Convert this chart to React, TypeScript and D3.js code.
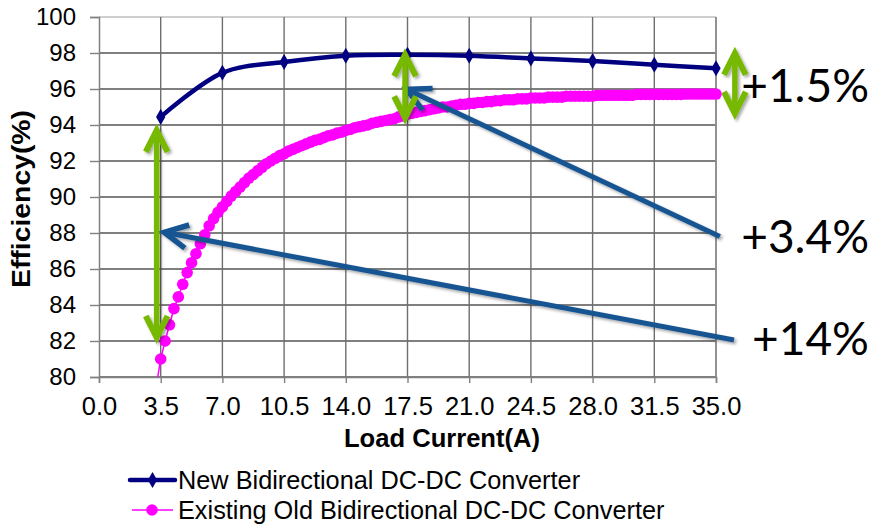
import * as d3 from "d3";
import { useRef, useEffect } from "react";

// new converter, measured points
const newCurrent = [3.5, 7, 10.5, 14, 17.5, 21, 24.5, 28, 31.5, 35];
const newEfficiency = [94.45, 96.9, 97.5, 97.85, 97.9, 97.85, 97.7, 97.55, 97.35, 97.15];

// old converter, dense sweep [current, efficiency]
const oldPoints: [number, number][] = [
  [3.25, 79.5], [3.5, 81.0], [3.75, 82.0], [4.0, 82.9], [4.25, 83.8], [4.5, 84.45],
  [4.75, 85.15], [5.0, 85.8], [5.25, 86.35], [5.5, 86.85], [5.75, 87.4], [6.0, 87.9],
  [6.25, 88.4], [6.5, 88.8], [6.75, 89.15], [7.0, 89.45], [7.25, 89.75], [7.5, 90.05],
  [7.75, 90.3], [8.0, 90.55], [8.25, 90.8], [8.5, 91.05], [8.75, 91.25], [9.0, 91.45],
  [9.25, 91.65], [9.5, 91.85], [9.75, 92.0], [10.0, 92.15], [10.25, 92.3], [10.5, 92.4],
  [10.75, 92.55], [11.0, 92.65], [11.25, 92.75], [11.5, 92.85], [11.75, 92.95], [12.0, 93.05],
  [12.25, 93.15], [12.5, 93.2], [12.75, 93.3], [13.0, 93.4], [13.25, 93.45], [13.5, 93.55],
  [13.75, 93.6], [14.0, 93.7], [14.25, 93.75], [14.5, 93.85], [14.75, 93.9], [15.0, 93.95],
  [15.25, 94.0], [15.5, 94.1], [15.75, 94.15], [16.0, 94.2], [16.25, 94.25], [16.5, 94.3],
  [16.75, 94.35], [17.0, 94.45], [17.25, 94.5], [17.5, 94.6], [17.75, 94.65], [18.0, 94.7],
  [18.25, 94.75], [18.5, 94.8], [18.75, 94.85], [19.0, 94.9], [19.25, 94.95], [19.5, 95.0],
  [19.75, 95.0], [20.0, 95.05], [20.25, 95.1], [20.5, 95.15], [20.75, 95.15], [21.0, 95.2],
  [21.25, 95.2], [21.5, 95.25], [21.75, 95.25], [22.0, 95.3], [22.25, 95.3], [22.5, 95.35],
  [22.75, 95.35], [23.0, 95.4], [23.25, 95.4], [23.5, 95.4], [23.75, 95.45], [24.0, 95.45],
  [24.25, 95.45], [24.5, 95.5], [24.75, 95.5], [25.0, 95.5], [25.25, 95.5], [25.5, 95.55],
  [25.75, 95.55], [26.0, 95.55], [26.25, 95.55], [26.5, 95.6], [26.75, 95.6], [27.0, 95.6],
  [27.25, 95.6], [27.5, 95.6], [27.75, 95.6], [28.0, 95.6], [28.25, 95.65], [28.5, 95.65],
  [28.75, 95.65], [29.0, 95.65], [29.25, 95.65], [29.5, 95.65], [29.75, 95.65], [30.0, 95.65],
  [30.25, 95.65], [30.5, 95.7], [30.75, 95.7], [31.0, 95.7], [31.25, 95.7], [31.5, 95.7],
  [31.75, 95.7], [32.0, 95.7], [32.25, 95.7], [32.5, 95.7], [32.75, 95.7], [33.0, 95.7],
  [33.25, 95.72], [33.5, 95.72], [33.75, 95.72], [34.0, 95.72], [34.25, 95.72], [34.5, 95.72],
  [34.75, 95.72], [35.0, 95.72],
];

const xTicks = [0, 3.5, 7, 10.5, 14, 17.5, 21, 24.5, 28, 31.5, 35];
const yTicks = [80, 82, 84, 86, 88, 90, 92, 94, 96, 98, 100];

const seriesNames = ["New Bidirectional DC-DC Converter", "Existing Old Bidirectional DC-DC Converter"];

// annotation arrows in data units: [x1, y1, x2, y2]
const greenArrows = [
  [3.27, 93.7, 3.27, 82.2],
  [17.36, 97.9, 17.36, 94.4],
  [36.07, 97.98, 36.07, 94.65],
];
const blueArrows = [
  [35.22, 87.8, 17.45, 95.98],
  [36.02, 82.06, 3.7, 88.04],
];
const gainLabels = ["+1.5%", "+3.4%", "+14%"];
const gainLabelY = [101.7, 253.3, 355];

const App = () => {
  const chartRef = useRef(null);

  const width = 874;
  const height = 524;
  const margin = { top: 17, bottom: 147, left: 99, right: 158 };
  const boundWidth = width - margin.left - margin.right;
  const boundHeight = height - margin.top - margin.bottom;

  useEffect(() => {
    const svg = d3.select(chartRef.current);
    svg.selectAll("*").remove();

    const scaleX = d3.scaleLinear().domain([0, 35]).range([margin.left, margin.left + boundWidth]);
    const scaleY = d3.scaleLinear().domain([80, 100]).range([margin.top + boundHeight, margin.top]);

    const defs = svg.append("defs");
    defs.append("clipPath").attr("id", "plot-clip")
      .append("rect")
      .attr("x", margin.left - 10).attr("y", margin.top)
      .attr("width", boundWidth + 20).attr("height", boundHeight);
    const shadow = defs.append("filter").attr("id", "shadow")
      .attr("x", "-20%").attr("y", "-20%").attr("width", "140%").attr("height", "140%");
    shadow.append("feDropShadow")
      .attr("dx", 2).attr("dy", 2).attr("stdDeviation", 1.5)
      .attr("flood-color", "#000").attr("flood-opacity", 0.35);

    const font = "'Liberation Sans', Arial, sans-serif";

    // gridlines
    svg.append("g").selectAll("line").data(yTicks).enter().append("line")
      .attr("x1", margin.left).attr("x2", margin.left + boundWidth)
      .attr("y1", d => scaleY(d)).attr("y2", d => scaleY(d))
      .attr("stroke", d => d === 100 ? "#a0a0a0" : "#000").attr("stroke-width", 1.2);
    svg.append("g").selectAll("line").data(xTicks.slice(1)).enter().append("line")
      .attr("x1", d => scaleX(d)).attr("x2", d => scaleX(d))
      .attr("y1", margin.top).attr("y2", margin.top + boundHeight)
      .attr("stroke", "#6e6e6e").attr("stroke-width", 1.4);

    // axes
    const yAxis = d3.axisLeft(scaleY).tickValues(yTicks).tickSize(9).tickPadding(14)
      .tickFormat(d3.format("d"));
    const gy = svg.append("g").attr("transform", `translate(${margin.left},0)`).call(yAxis);
    gy.selectAll("text").attr("font-family", font).attr("font-size", 24).attr("fill", "#000");

    const xAxis = d3.axisBottom(scaleX).tickValues(xTicks).tickSize(6).tickPadding(14)
      .tickFormat(d3.format(".1f"));
    const gx = svg.append("g").attr("transform", `translate(0,${margin.top + boundHeight})`).call(xAxis);
    gx.selectAll("text").attr("font-family", font).attr("font-size", 25.5).attr("fill", "#000");
    [gx, gy].forEach(g => {
      g.select(".domain").attr("stroke", "#808080").attr("stroke-width", 1.5);
      g.selectAll(".tick line").attr("stroke", "#808080").attr("stroke-width", 1.4);
    });

    // right border
    svg.append("line")
      .attr("x1", margin.left + boundWidth).attr("x2", margin.left + boundWidth)
      .attr("y1", margin.top).attr("y2", margin.top + boundHeight)
      .attr("stroke", "#909090").attr("stroke-width", 1.5);

    // titles
    svg.append("text")
      .attr("x", 442).attr("y", 447)
      .attr("text-anchor", "middle")
      .attr("font-family", font).attr("font-weight", "bold").attr("font-size", 25)
      .attr("textLength", 196).attr("lengthAdjust", "spacingAndGlyphs")
      .text("Load Current(A)");
    svg.append("text")
      .attr("transform", `translate(30,199) rotate(-90)`)
      .attr("text-anchor", "middle")
      .attr("font-family", font).attr("font-weight", "bold").attr("font-size", 25)
      .attr("textLength", 178).attr("lengthAdjust", "spacingAndGlyphs")
      .text("Efficiency(%)");

    // old series
    const oldLine = d3.line<[number, number]>()
      .x(d => scaleX(d[0])).y(d => scaleY(d[1]));
    svg.append("path")
      .datum(oldPoints)
      .attr("clip-path", "url(#plot-clip)")
      .attr("d", oldLine)
      .attr("fill", "none").attr("stroke", "#ff00ff").attr("stroke-width", 1.5);
    svg.append("g").selectAll("circle")
      .data(oldPoints.filter(d => d[1] >= 80)).enter().append("circle")
      .attr("cx", d => scaleX(d[0])).attr("cy", d => scaleY(d[1]))
      .attr("r", 5.8).attr("fill", "#ff00ff");

    // new series
    const newData = newCurrent.map((c, i) => [c, newEfficiency[i]] as [number, number]);
    const newLine = d3.line<[number, number]>()
      .x(d => scaleX(d[0])).y(d => scaleY(d[1]))
      .curve(d3.curveCatmullRom.alpha(0.5));
    svg.append("path")
      .datum(newData)
      .attr("d", newLine)
      .attr("fill", "none").attr("stroke", "#000080").attr("stroke-width", 4.5);
    const diamond = d3.symbol().type(d3.symbolDiamond).size(75);
    svg.append("g").selectAll("path")
      .data(newData).enter().append("path")
      .attr("d", diamond)
      .attr("transform", d => `translate(${scaleX(d[0])},${scaleY(d[1])})`)
      .attr("fill", "#000080");

    // arrows
    const chevron = (g, tipX, tipY, fromX, fromY, len, color, w) => {
      const ang = Math.atan2(fromY - tipY, fromX - tipX);
      const spread = 0.47;
      const p1 = [tipX + len * Math.cos(ang - spread), tipY + len * Math.sin(ang - spread)];
      const p2 = [tipX + len * Math.cos(ang + spread), tipY + len * Math.sin(ang + spread)];
      g.append("path")
        .attr("d", `M${p1[0]},${p1[1]}L${tipX},${tipY}L${p2[0]},${p2[1]}`)
        .attr("fill", "none").attr("stroke", color).attr("stroke-width", w)
        .attr("stroke-linejoin", "miter").attr("stroke-linecap", "butt");
    };

    const arrows = svg.append("g").attr("filter", "url(#shadow)");
    blueArrows.forEach(([x1, y1, x2, y2]) => {
      const ax = scaleX(x1), ay = scaleY(y1), bx = scaleX(x2), by = scaleY(y2);
      arrows.append("line")
        .attr("x1", ax).attr("y1", ay).attr("x2", bx).attr("y2", by)
        .attr("stroke", "#195592").attr("stroke-width", 5);
      chevron(arrows, bx, by, ax, ay, 26, "#195592", 5.5);
    });
    greenArrows.forEach(([x1, y1, x2, y2]) => {
      const ax = scaleX(x1), ay = scaleY(y1), bx = scaleX(x2), by = scaleY(y2);
      arrows.append("line")
        .attr("x1", ax).attr("y1", ay + 3).attr("x2", bx).attr("y2", by - 3)
        .attr("stroke", "#77b800").attr("stroke-width", 5.5);
      chevron(arrows, ax, ay, bx, by, 24, "#77b800", 6);
      chevron(arrows, bx, by, ax, ay, 24, "#77b800", 6);
    });

    // gain labels
    svg.append("g").selectAll("text")
      .data(gainLabels).enter().append("text")
      .attr("x", 869).attr("y", (d, i) => gainLabelY[i])
      .attr("text-anchor", "end")
      .attr("font-family", "Lato, 'Open Sans', sans-serif").attr("font-size", 46)
      .attr("fill", "#000")
      .text(d => d);

    // legend
    const legend = svg.append("g").attr("transform", "translate(130,480)");
    legend.append("line").attr("x1", 0).attr("x2", 45).attr("y1", 0).attr("y2", 0)
      .attr("stroke", "#000080").attr("stroke-width", 4.5).attr("stroke-linecap", "round");
    legend.append("path").attr("d", diamond).attr("transform", "translate(22.5,0)").attr("fill", "#000080");
    legend.append("line").attr("x1", 2).attr("x2", 43).attr("y1", 30).attr("y2", 30)
      .attr("stroke", "#ff00ff").attr("stroke-width", 1.5);
    legend.append("circle").attr("cx", 22).attr("cy", 30).attr("r", 5.8).attr("fill", "#ff00ff");
    legend.selectAll("text.name").data(seriesNames).enter().append("text")
      .attr("class", "name")
      .attr("x", 48).attr("y", (d, i) => 9 + i * 30)
      .attr("font-family", font).attr("font-size", 25.3)
      .text(d => d);
  }, []);

  return (
    <svg ref={chartRef} width={width} height={height}
      style={{ position: "absolute", left: 0, top: 0, background: "#fff" }}></svg>
  );
};

export default App;
